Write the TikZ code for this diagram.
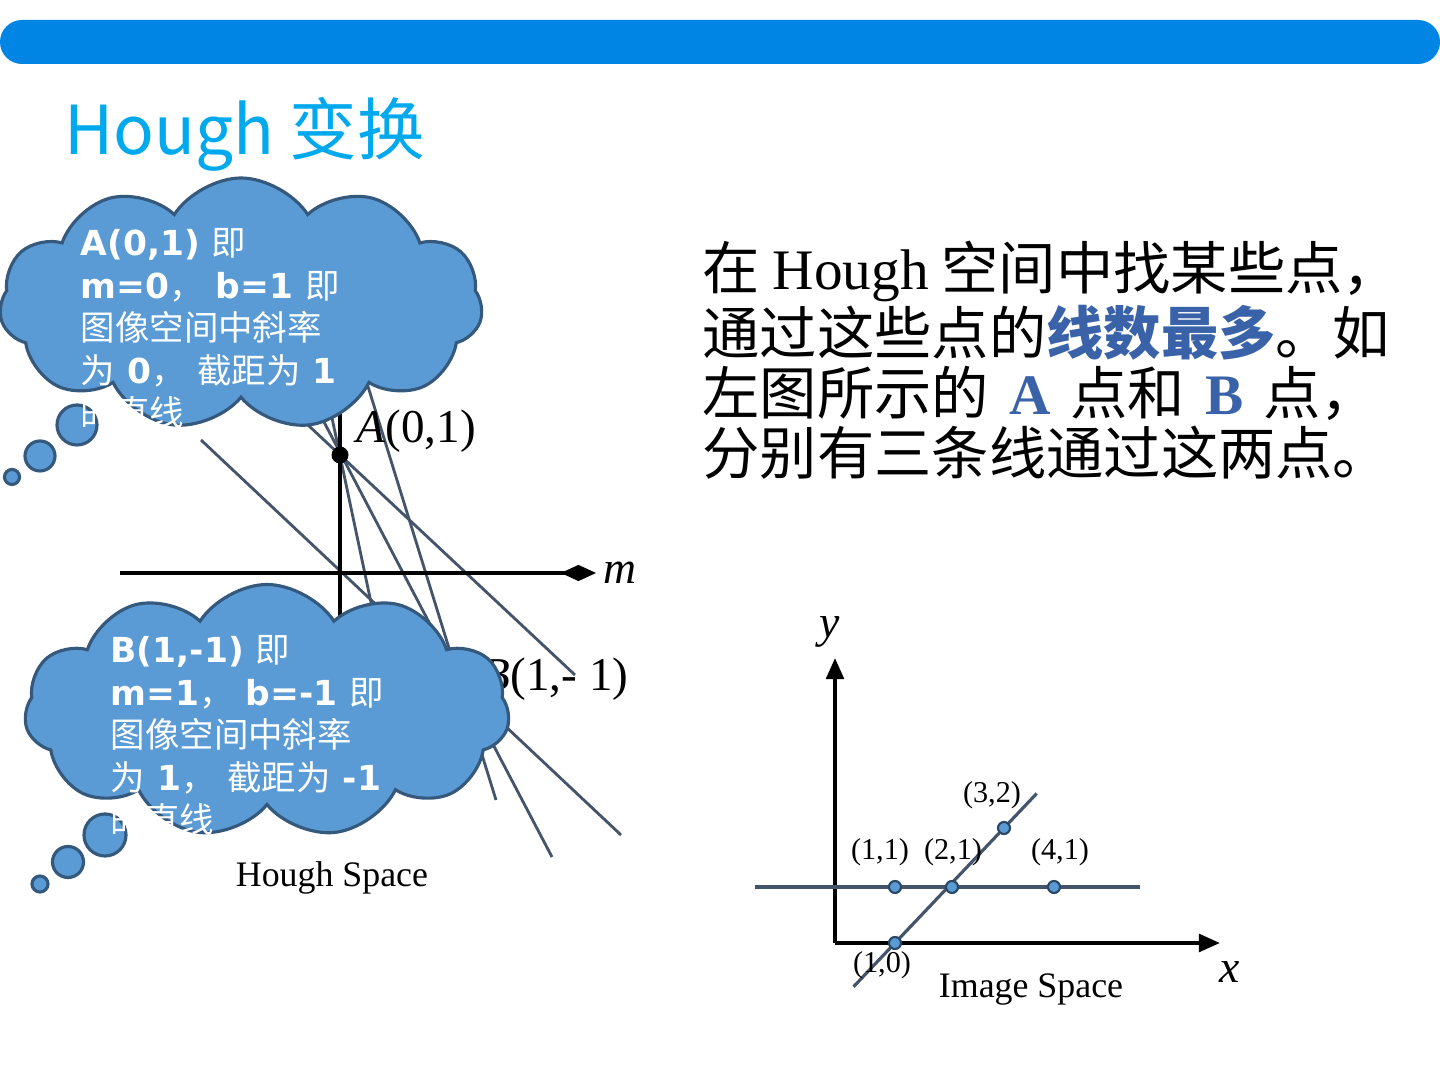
\documentclass[tikz,border=0pt]{standalone}
\usepackage{fontspec}
\setmainfont{Liberation Serif}
\newfontfamily\cjk{Noto Sans CJK SC}
\newfontfamily\notefont{DejaVu Sans}
\usepackage{xcolor}
\definecolor{barblue}{HTML}{0085E4}
\definecolor{titleblue}{HTML}{00A9EE}
\definecolor{cloudfill}{HTML}{5B9BD5}
\definecolor{cloudline}{HTML}{35597D}
\definecolor{plotline}{HTML}{44546A}
\definecolor{hiblue}{HTML}{3A62A8}
\usetikzlibrary{shapes.symbols, arrows.meta, positioning, calc}

% Chinese inside the clouds stays regular weight
\newcommand{\zh}[1]{{\cjk\mdseries #1}}

\tikzset{
  thought/.style={cloud, cloud puffs=11, cloud puff arc=115, aspect=1.9,
    fill=cloudfill, draw=cloudline, line width=0.9pt, inner sep=0pt},
  bubble/.style={fill=cloudfill, draw=cloudline, line width=0.9pt},
  notetext/.style={text=white, align=left, anchor=north west, inner sep=0pt,
    font=\notefont\bfseries\fontsize{9.8}{12.1}\selectfont},
  houghline/.style={plotline, line width=0.8pt},
  axisline/.style={black, line width=1.4pt},
  imgaxis/.style={black, line width=1.1pt, -{Triangle[length=6pt,width=5pt]}},
  imgline/.style={plotline, line width=0.9pt},
  imgpt/.style={circle, fill=cloudfill, draw=cloudline!80!black, line width=0.6pt,
    minimum size=0.12cm, inner sep=0pt},
  ptlabel/.style={font=\fontsize{8.6}{10}\selectfont, inner sep=0pt},
  caption/.style={font=\fontsize{10.2}{12}\selectfont, inner sep=0pt},
  axislabel/.style={font=\itshape\fontsize{13}{15}\selectfont, inner sep=0pt}
}

\begin{document}
\begin{tikzpicture}
  \useasboundingbox (0,0) rectangle (14.40,10.80);
  \fill[white] (0,0) rectangle (14.40,10.80);

  % Header bar and title
  \fill[barblue, rounded corners=0.22cm] (0,10.16) rectangle (14.40,10.60);
  \node[anchor=base west, inner sep=0pt, text=titleblue,
    font=\cjk\fontsize{19.2}{23}\selectfont] (title) at (0.64,9.25) {Hough 变换};

  % Hough space: points and lines
  \coordinate (A) at (3.40,6.25);
  \coordinate (B) at (4.60,3.96);

  \draw[houghline] (2.01,6.40) -- (6.21,2.45);
  \draw[houghline] (3.02,7.00) -- (5.52,2.23);
  \draw[houghline] (3.66,7.00) -- (4.96,2.80);
  \draw[houghline] (2.62,6.98) -- (5.75,4.05);
  \draw[houghline] (3.24,7.00) -- (3.88,3.97);

  \draw[axisline] (3.40,7.00) -- (3.40,4.60);
  \draw[axisline, -{Diamond[length=10pt,width=4.6pt]}] (1.20,5.07) -- (5.96,5.07);
  \fill[black] (A) circle (0.085);

  \node[anchor=west, inner sep=0pt, font=\fontsize{13.4}{15}\selectfont]
    (labA) at (3.56,6.49) {\textit{A}(0,1)};
  \node[anchor=east, inner sep=0pt, font=\fontsize{13.4}{15}\selectfont]
    (labB) at (6.29,4.01) {\textit{B}(1,- 1)};
  \node[axislabel] (labm) at (6.20,5.07) {m};
  \node[caption] (hcap) at (3.32,2.02) {Hough Space};

  % Thought clouds
  \node[thought, minimum width=4.83cm, minimum height=2.52cm] (cloudA) at (2.41,7.76) {};
  \foreach \cx/\cy/\r in {0.77/6.55/0.20, 0.40/6.24/0.15, 0.12/6.03/0.075}
    \draw[bubble] (\cx,\cy) circle (\r);
  \node[notetext] (noteA) at (0.80,8.52)
    {A(0,1) \zh{即}\\ m=0\zh{，} b=1 \zh{即}\\ \zh{图像空间中斜率}\\
     \zh{为} 0\zh{，} \zh{截距为} 1\\ \zh{的直线}};

  \node[thought, minimum width=4.85cm, minimum height=2.53cm] (cloudB) at (2.67,3.69) {};
  \foreach \cx/\cy/\r in {1.05/2.45/0.21, 0.68/2.18/0.155, 0.40/1.96/0.08}
    \draw[bubble] (\cx,\cy) circle (\r);
  \node[notetext] (noteB) at (1.10,4.45)
    {B(1,-1) \zh{即}\\ m=1\zh{，} b=-1 \zh{即}\\ \zh{图像空间中斜率}\\
     \zh{为} 1\zh{，} \zh{截距为} -1\\ \zh{的直线}};

  % Explanation text
  \node[anchor=north west, align=left, inner sep=0pt,
    font=\cjk\fontsize{16.3}{17.1}\selectfont] (explain) at (7.02,8.40)
    {在 {\rmfamily Hough} 空间中找某些点，\\
     通过这些点的{\bfseries\color{hiblue}线数最多}。如\\
     左图所示的\hspace{0.35em}{\rmfamily\bfseries\color{hiblue}A}\hspace{0.35em}点和\hspace{0.35em}{\rmfamily\bfseries\color{hiblue}B}\hspace{0.35em}点，\\
     分别有三条线通过这两点。};

  % Image space
  \coordinate (O) at (8.35,1.37);
  \coordinate (p10) at (8.95,1.37);
  \coordinate (p11) at (8.95,1.93);
  \coordinate (p21) at (9.52,1.93);
  \coordinate (p32) at (10.04,2.52);
  \coordinate (p41) at (10.54,1.93);
  \coordinate (hl) at (7.55,1.93);
  \coordinate (hr) at (11.40,1.93);

  \draw[imgaxis] (O) -- (8.35,4.22);
  \draw[imgaxis] (O) -- (12.20,1.37);
  \node[axislabel] (laby) at (8.30,4.48) {y};
  \node[axislabel] (labx) at (12.30,1.08) {x};

  \draw[imgline] (hl) -- (hr);
  \draw[imgline] ($(p10)!-0.38!(p32)$) -- ($(p32)!-0.30!(p10)$);
  \foreach \p in {p10, p11, p21, p32, p41}
    \node[imgpt] at (\p) {};

  \node[ptlabel] (l11) at (8.80,2.28) {(1,1)};
  \node[ptlabel] (l21) at (9.53,2.28) {(2,1)};
  \node[ptlabel] (l41) at (10.60,2.28) {(4,1)};
  \node[ptlabel] (l32) at (9.92,2.85) {(3,2)};
  \node[ptlabel] (l10) at (8.82,1.15) {(1,0)};
  \node[caption] (icap) at (10.31,0.90) {Image Space};
\end{tikzpicture}
\end{document}
